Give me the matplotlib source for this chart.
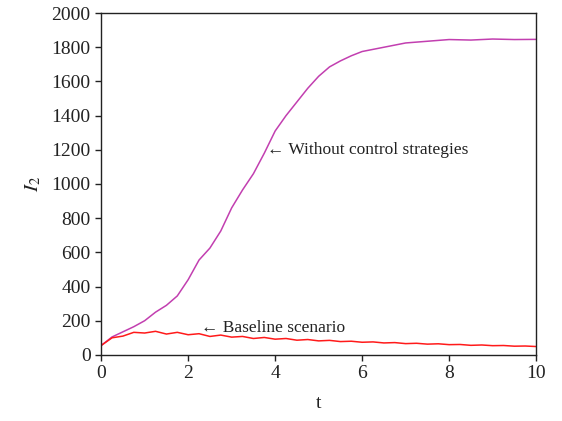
import numpy as np
import matplotlib
matplotlib.use("Agg")
from matplotlib import pyplot as plt

# values
t_no_control = [0, 0.25, 0.5, 0.75, 1.0, 1.25, 1.5, 1.75, 2.0, 2.25, 2.5, 2.75,
                3.0, 3.25, 3.5, 3.75, 4.0, 4.25, 4.5, 4.75, 5.0, 5.25, 5.5,
                5.75, 6.0, 6.5, 7.0, 7.5, 8.0, 8.5, 9.0, 9.5, 10.0]
I2_no_control = [55, 105, 135, 165, 200, 250, 290, 345, 440, 555, 625, 725,
                 860, 965, 1060, 1180, 1310, 1400, 1480, 1560, 1630, 1685, 1720,
                 1750, 1775, 1800, 1825, 1835, 1845, 1842, 1848, 1845, 1846]

t_baseline = [0, 0.25, 0.5, 0.75, 1.0, 1.25, 1.5, 1.75, 2.0, 2.25, 2.5, 2.75,
              3.0, 3.25, 3.5, 3.75, 4.0, 4.25, 4.5, 4.75, 5.0, 5.25, 5.5,
              5.75, 6.0, 6.25, 6.5, 6.75, 7.0, 7.25, 7.5, 7.75, 8.0, 8.25,
              8.5, 8.75, 9.0, 9.25, 9.5, 9.75, 10.0]
I2_baseline = [55, 100, 110, 132, 128, 138, 122, 132, 118, 124, 108, 116,
               104, 108, 96, 102, 92, 96, 86, 90, 82, 85, 78, 80, 74, 76,
               70, 72, 66, 68, 63, 65, 60, 61, 56, 58, 54, 55, 51, 52, 49]

serif = ["Liberation Serif", "DejaVu Serif"]
plt.rcParams["font.family"] = serif
plt.rcParams["mathtext.fontset"] = "stix"

fig = plt.figure(figsize=(5.62, 4.21), dpi=100)
ax = fig.add_axes([0.18, 0.157, 0.774, 0.812])

ax.plot(t_no_control, I2_no_control, color="#c23fb0", lw=1.1)
ax.plot(t_baseline, I2_baseline, color="#ff1a1a", lw=1.1)

ax.set_xlim(0, 10)
ax.set_ylim(0, 2000)
ax.set_xticks(np.arange(0, 11, 2))
ax.set_yticks(np.arange(0, 2001, 200))
ax.tick_params(direction="out", length=4, width=1, labelsize=14, colors="#222222",
               top=False, right=False)
for s in ax.spines.values():
    s.set_linewidth(1.0)
    s.set_color("#222222")

ax.set_xlabel("t", fontsize=14, color="#222222", labelpad=9)
ax.set_ylabel("$I_2$", fontsize=15, color="#222222", labelpad=6)

ax.text(3.82, 1200, "\u2190 Without control strategies", fontsize=12.5,
        va="center", ha="left", color="#222222", family=serif)
ax.text(2.3, 158, "\u2190 Baseline scenario", fontsize=12.5,
        va="center", ha="left", color="#222222", family=serif)

fig.savefig("out.png", dpi=100)
